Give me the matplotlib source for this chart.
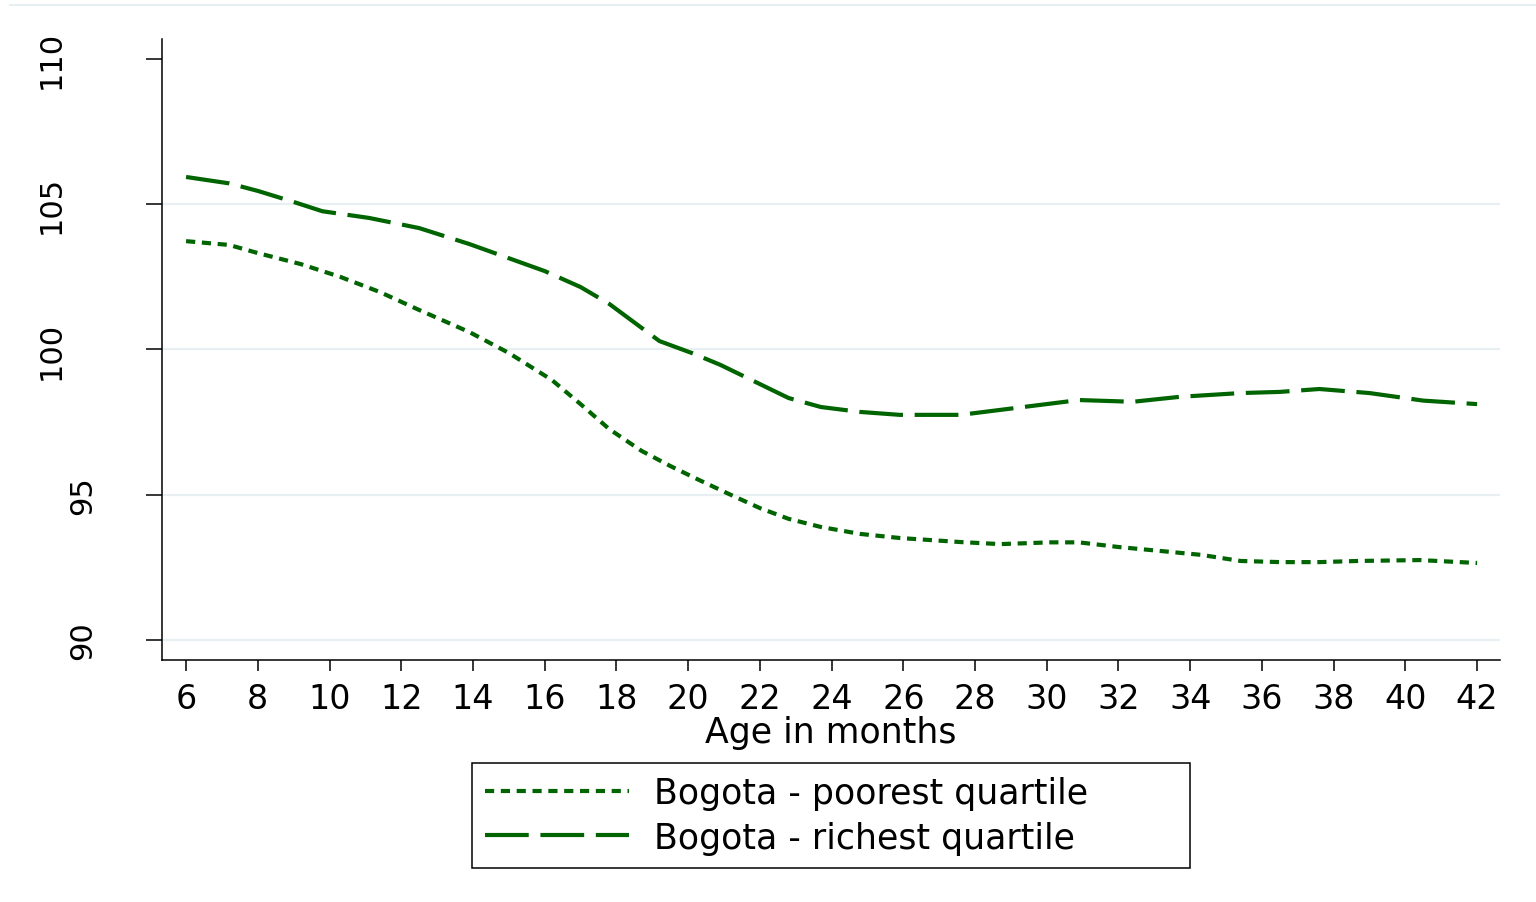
import matplotlib
matplotlib.use("Agg")
import matplotlib.pyplot as plt
from matplotlib.lines import Line2D

# values
age_poor = [6.0, 7.2, 8.0, 9.2, 10.3, 11.4, 12.5, 13.9, 15.0, 16.2, 17.0, 17.8,
            18.7, 19.5, 20.3, 21.2, 22.0, 22.8, 23.7, 24.8, 25.9, 27.6, 28.7,
            30.1, 30.9, 32.0, 33.2, 34.3, 35.4, 36.5, 37.6, 38.7, 40.4, 42.0]
poor = [103.73, 103.60, 103.32, 102.94, 102.50, 101.98, 101.36, 100.60, 99.88,
        98.95, 98.12, 97.26, 96.51, 95.99, 95.51, 94.99, 94.54, 94.17, 93.89,
        93.65, 93.51, 93.37, 93.30, 93.36, 93.36, 93.20, 93.06, 92.93, 92.72,
        92.68, 92.68, 92.72, 92.75, 92.65]

age_rich = [6.0, 7.2, 8.0, 9.0, 9.8, 11.1, 12.5, 13.9, 16.0, 17.0, 17.8, 19.2,
            20.1, 20.9, 22.0, 22.8, 23.7, 24.8, 25.9, 27.6, 28.7, 29.8, 30.9,
            32.4, 33.7, 35.4, 36.5, 37.6, 39.0, 40.5, 42.0]
rich = [105.94, 105.72, 105.46, 105.08, 104.76, 104.53, 104.18, 103.63, 102.70,
        102.15, 101.57, 100.29, 99.88, 99.47, 98.81, 98.33, 98.02, 97.85, 97.75,
        97.75, 97.92, 98.09, 98.26, 98.20, 98.37, 98.50, 98.54, 98.64, 98.50,
        98.24, 98.12]

labels = ['Bogota - poorest quartile', 'Bogota - richest quartile']
xticks = list(range(6, 43, 2))
yticks = [90, 95, 100, 105, 110]
grid_y = [90, 95, 100, 105]

green = '#006400'

fig = plt.figure(figsize=(15.36, 9.03), dpi=100)
ax = fig.add_axes([0.1055, 0.268, 0.8711, 0.6877])

for g in grid_y:
    ax.axhline(g, color='#e8eff2', lw=1.6, zorder=0)

ax.plot(age_poor, poor, color=green, lw=3.0, linestyle=(0, (2.2, 1.6)),
        label=labels[0])
ax.plot(age_rich, rich, color=green, lw=3.0, linestyle=(0, (10.5, 2.8)),
        label=labels[1])

ax.set_xlim(5.33, 42.64)
ax.set_ylim(89.31, 110.69)

for s in ['top', 'right']:
    ax.spines[s].set_visible(False)
for s in ['left', 'bottom']:
    ax.spines[s].set_linewidth(1.1)

ax.set_xticks(xticks)
ax.tick_params(axis='x', length=8, width=1.1, labelsize=24, pad=8)
ax.set_yticks(yticks)
ax.set_yticklabels([])
ax.tick_params(axis='y', length=11.5, width=1.1)

# rotated y labels, placed like the original (Stata style)
for v in yticks:
    s = str(v)
    xpos = -0.083 if len(s) == 3 else -0.059
    ax.text(xpos, v, s, rotation=90, ha='center', va='center', fontsize=22,
            transform=ax.get_yaxis_transform(), clip_on=False)

ax.set_xlabel('Age in months', fontsize=25, labelpad=0)

ax.legend(loc='upper left', bbox_to_anchor=(472 / 1536, 1 - 865 / 903, 718 / 1536, 101 / 903),
          bbox_transform=fig.transFigure, mode='expand', fontsize=25,
          frameon=True, fancybox=False, edgecolor='black', framealpha=1,
          handlelength=4.15, handletextpad=0.72, borderpad=0.38, labelspacing=0.3,
          borderaxespad=0)
ax.get_legend().get_frame().set_linewidth(1.1)

fig.add_artist(Line2D([10 / 1536, 1], [1 - 6 / 903, 1 - 6 / 903],
                      transform=fig.transFigure, color='#e8eff2', lw=1.5))

plt.savefig('out.png', dpi=100)
